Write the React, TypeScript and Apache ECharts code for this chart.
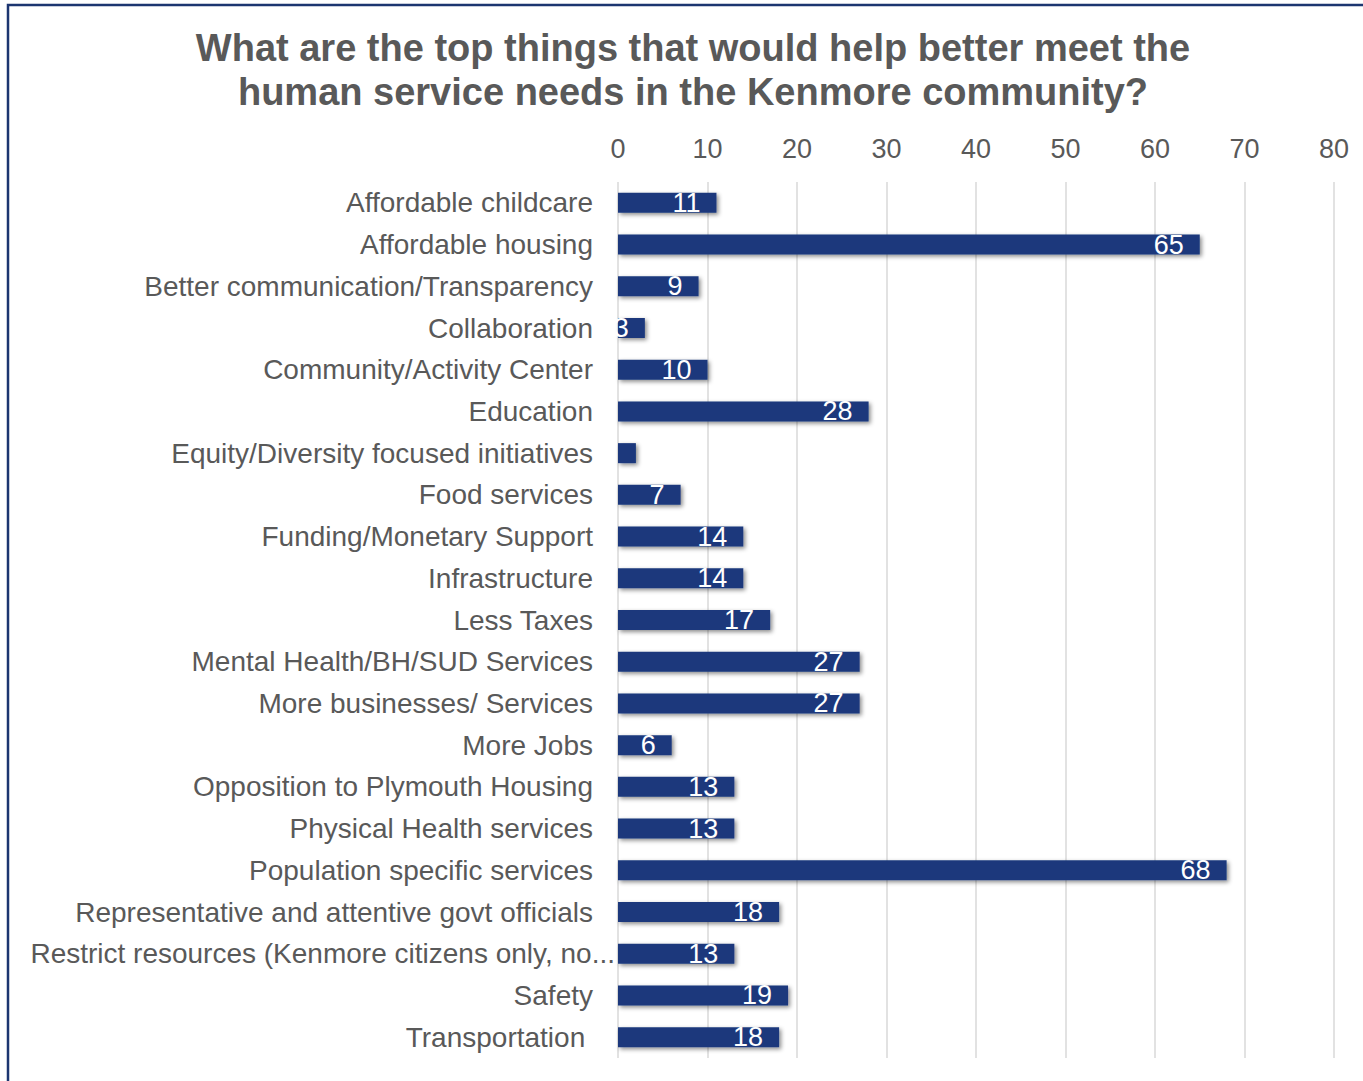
import React, { useEffect, useRef } from "react";
import * as echarts from "echarts";

const titleLines = [
  "What are the top things that would help better meet the",
  "human service needs in the Kenmore community?",
];

const categories = [
  "Affordable childcare",
  "Affordable housing",
  "Better communication/Transparency",
  "Collaboration",
  "Community/Activity Center",
  "Education",
  "Equity/Diversity focused initiatives",
  "Food services",
  "Funding/Monetary Support",
  "Infrastructure",
  "Less Taxes",
  "Mental Health/BH/SUD Services",
  "More businesses/ Services",
  "More Jobs",
  "Opposition to Plymouth Housing",
  "Physical Health services",
  "Population specific services",
  "Representative and attentive govt officials",
  "Restrict resources (Kenmore citizens only, no...",
  "Safety",
  "Transportation ",
];

const counts = [11, 65, 9, 3, 10, 28, 2, 7, 14, 14, 17, 27, 27, 6, 13, 13, 68, 18, 13, 19, 18];

// Values whose data label is not drawn
const hiddenLabels = ["Equity/Diversity focused initiatives"];

// Truncated label that runs up to the bars
const overflowLabels = ["Restrict resources (Kenmore citizens only, no..."];

const xTicks = { min: 0, max: 80, interval: 10 };

const GREY = "#595959";
const NAVY = "#1a387c";
const FONT = "Liberation Sans, Arial, sans-serif";

export default function App() {
  const ref = useRef<HTMLDivElement>(null);

  useEffect(() => {
    if (!ref.current) return;
    const chart = echarts.init(ref.current, null, { renderer: "svg" });
    chart.setOption({
      animation: false,
      backgroundColor: "#ffffff",
      title: {
        text: titleLines.join("\n"),
        left: 688,
        textAlign: "center",
        top: 21,
        textStyle: {
          fontFamily: FONT,
          fontSize: 38,
          fontWeight: "bold",
          color: GREY,
          lineHeight: 44,
        },
      },
      graphic: [
        {
          type: "rect",
          shape: { x: 8, y: 5, width: 1420, height: 1120 },
          style: { fill: "none", stroke: "#1c3570", lineWidth: 2.5 },
          silent: true,
        },
      ],
      grid: { left: 618, right: 29, top: 182, bottom: 23, containLabel: false },
      xAxis: {
        type: "value",
        position: "top",
        min: xTicks.min,
        max: xTicks.max,
        interval: xTicks.interval,
        axisLine: { show: false },
        axisTick: { show: false },
        axisLabel: {
          color: GREY,
          fontSize: 27,
          fontFamily: FONT,
          margin: 20,
        },
        splitLine: { show: true, lineStyle: { color: "#d9d9d9", width: 1.5 } },
      },
      yAxis: {
        type: "category",
        inverse: true,
        data: categories,
        axisLine: { show: false },
        axisTick: { show: false },
        axisLabel: {
          margin: 3,
          formatter: (name: string) =>
            overflowLabels.includes(name) ? `{t|${name}}` : `{t|${name}}{s|}`,
          rich: {
            t: { color: GREY, fontSize: 28, fontFamily: FONT },
            s: { width: 22 },
          },
        },
      },
      series: [
        {
          type: "bar",
          barWidth: 20,
          data: counts.map((v, i) =>
            hiddenLabels.includes(categories[i])
              ? { value: v, label: { show: false } }
              : v
          ),
          itemStyle: {
            color: NAVY,
            shadowColor: "rgba(0,0,0,0.45)",
            shadowBlur: 4,
            shadowOffsetX: 2,
            shadowOffsetY: 2,
          },
          label: {
            show: true,
            position: "insideRight",
            distance: 16,
            color: "#ffffff",
            fontSize: 27,
            fontFamily: FONT,
          },
        },
      ],
    });
    return () => chart.dispose();
  }, []);

  return (
    <div
      style={{
        position: "fixed",
        left: 0,
        top: 0,
        width: 1363,
        height: 1081,
        overflow: "hidden",
      }}
    >
      <div ref={ref} style={{ width: 1363, height: 1081 }} />
    </div>
  );
}
